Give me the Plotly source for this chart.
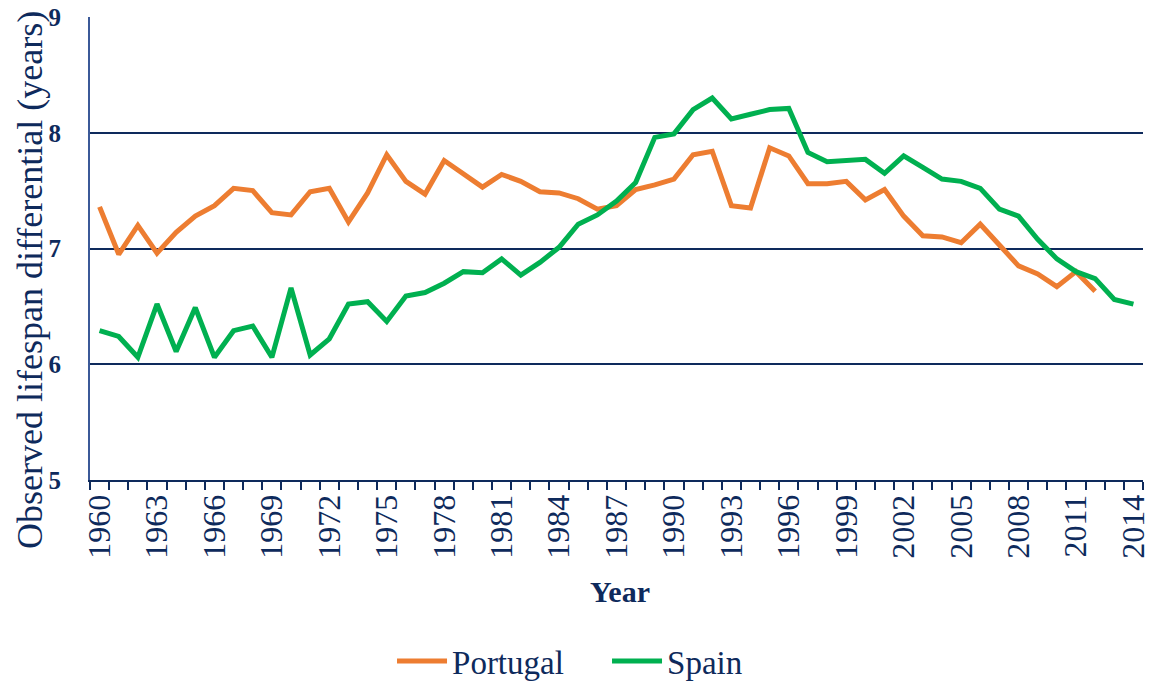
import plotly.graph_objects as go

years = list(range(1960, 2015))

portugal = [
    7.36, 6.95, 7.20, 6.96, 7.14, 7.28, 7.37, 7.52, 7.50, 7.31,
    7.29, 7.49, 7.52, 7.23, 7.48, 7.81, 7.58, 7.47, 7.76, 7.65,
    7.53, 7.64, 7.58, 7.49, 7.48, 7.43, 7.34, 7.37, 7.51, 7.55,
    7.60, 7.81, 7.84, 7.37, 7.35, 7.87, 7.80, 7.56, 7.56, 7.58,
    7.42, 7.51, 7.28, 7.11, 7.10, 7.05, 7.21, 7.03, 6.85, 6.78,
    6.67, 6.80, 6.63,
]

spain = [
    6.29, 6.24, 6.06, 6.52, 6.11, 6.49, 6.06, 6.29, 6.33, 6.06,
    6.66, 6.08, 6.22, 6.52, 6.54, 6.37, 6.59, 6.62, 6.70, 6.80,
    6.79, 6.91, 6.77, 6.88, 7.01, 7.21, 7.29, 7.41, 7.57, 7.96,
    7.99, 8.20, 8.30, 8.12, 8.16, 8.20, 8.21, 7.83, 7.75, 7.76,
    7.77, 7.65, 7.80, 7.70, 7.60, 7.58, 7.52, 7.34, 7.28, 7.08,
    6.91, 6.80, 6.74, 6.56, 6.52,
]

NAVY = "#0E2A5C"
FONT = "Liberation Serif"

fig = go.Figure()
fig.add_trace(go.Scatter(
    x=years[:len(portugal)], y=portugal, name="Portugal", mode="lines",
    line=dict(color="#ED7D31", width=5),
))
fig.add_trace(go.Scatter(
    x=years, y=spain, name="Spain", mode="lines",
    line=dict(color="#00B050", width=5),
))

# axis titles as annotations so they sit where the original has them
fig.add_annotation(
    text="Observed lifespan differential (years)", textangle=-90,
    xref="paper", yref="paper", x=-0.057, y=0.432,
    xanchor="center", yanchor="middle",
    showarrow=False, font=dict(size=36, color=NAVY),
)
fig.add_annotation(
    text="<b>Year</b>",
    xref="paper", yref="paper", x=0.503, y=-0.24,
    xanchor="center", yanchor="middle",
    showarrow=False, font=dict(size=30, color=NAVY),
)

fig.update_layout(
    width=1153, height=689,
    margin=dict(l=90, r=10, t=17, b=209),
    plot_bgcolor="white",
    paper_bgcolor="white",
    font=dict(family=FONT, size=30, color=NAVY),
    showlegend=True,
    legend=dict(
        orientation="h", x=0.491, xanchor="center",
        yref="container", y=0, yanchor="bottom",
        font=dict(size=33, color=NAVY), itemwidth=50,
        entrywidth=150, entrywidthmode="pixels",
    ),
    xaxis=dict(
        range=[1959.5, 2014.5],
        tick0=1960, dtick=3,
        ticks="", tickangle=-90,
        tickfont=dict(size=32, color=NAVY),
        showgrid=False, zeroline=False, automargin=False,
        showline=True, linecolor=NAVY, linewidth=2,
        minor=dict(tick0=1959.5, dtick=1, ticks="outside", ticklen=8,
                   tickcolor=NAVY, tickwidth=2, showgrid=False),
    ),
    yaxis=dict(
        range=[5, 9], dtick=1,
        tickfont=dict(size=25, color=NAVY),
        tickprefix="<b>", ticksuffix="</b>",
        showgrid=True, gridcolor=NAVY, gridwidth=2,
        zeroline=False, automargin=False,
        showline=True, linecolor="#3B5998", linewidth=2,
        ticks="", ticklabelstandoff=22,
    ),
)

fig.write_html(
    "out.html",
    config={"displayModeBar": False},
    post_script="document.body.style.margin='0';",
)
